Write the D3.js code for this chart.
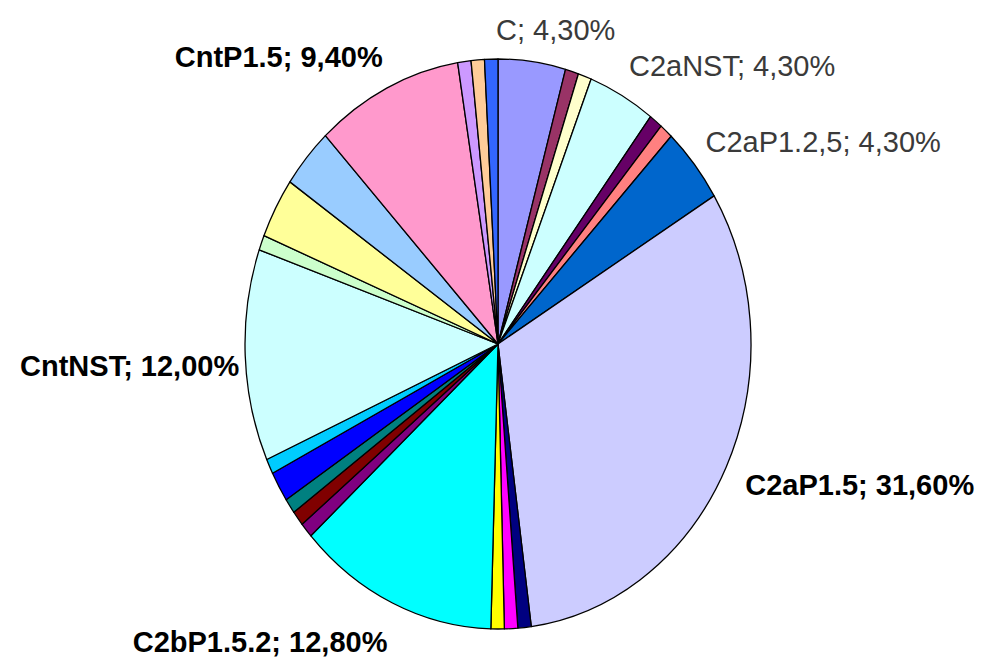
<!DOCTYPE html>
<html>
<head>
<meta charset="utf-8">
<script src="https://cdn.jsdelivr.net/npm/d3@7"></script>
<style>
  html, body { margin: 0; padding: 0; background: #fff; }
  svg { display: block; }
</style>
</head>
<body>
<div id="chart"></div>
<script>
// slice names (null = slice without a data label), clockwise from 12 o'clock
var categories = ["C", null, null, "C2aNST", null, null, "C2aP1.2,5", "C2aP1.5",
  null, null, null, "C2bP1.5.2", null, null, null, null, null, "CntNST",
  null, null, null, "CntP1.5", null, null, null];

// share of each slice, percent
var values = [4.3, 0.85, 0.85, 4.3, 0.85, 0.85, 4.3, 31.6,
  0.85, 0.85, 0.85, 12.8, 0.85, 0.85, 0.85, 1.71, 0.85, 12.0,
  0.85, 3.42, 3.42, 9.4, 0.85, 0.85, 0.85];

// old excel default series colours
var colors = ["#9999FF", "#993366", "#FFFFCC", "#CCFFFF", "#660066", "#FF8080", "#0066CC", "#CCCCFF",
  "#000080", "#FF00FF", "#FFFF00", "#00FFFF", "#800080", "#800000", "#008080", "#0000FF", "#00CCFF", "#CCFFFF",
  "#CCFFCC", "#FFFF99", "#99CCFF", "#FF99CC", "#CC99FF", "#FFCC99", "#3366FF"];

var width = 983, height = 660;
var cx = 498, cy = 344, rx = 253, ry = 285;

// where each label sits relative to the rim point of its slice
var labelLayout = {
  "C":          { dx: -36, dy: -22, anchor: "start", bold: false },
  "C2aNST":     { dx: 7,   dy: -20, anchor: "start", bold: false },
  "C2aP1.2,5":  { dx: 11,  dy: -12, anchor: "start", bold: false },
  "C2aP1.5":    { dx: 19,  dy: 28,  anchor: "start", bold: true },
  "C2bP1.5.2":  { dx: -5,  dy: 49,  anchor: "end",   bold: true },
  "CntNST":     { dx: -6,  dy: 21,  anchor: "end",   bold: true },
  "CntP1.5":    { dx: -4,  dy: -21, anchor: "end",   bold: true }
};

var data = values.map(function(v, i) {
  return { name: categories[i], value: v, color: colors[i] };
});

var comma = d3.formatLocale({ decimal: ",", thousands: ".", grouping: [3], currency: ["", ""] }).format(".2f");

var svg = d3.select("#chart").append("svg")
  .attr("width", width)
  .attr("height", height);

var pie = d3.pie().sort(null).value(function(d) { return d.value; });
var arcs = pie(data);

var arc = d3.arc().innerRadius(0).outerRadius(rx);

// the pie is an ellipse: squash a circle vertically
var g = svg.append("g")
  .attr("transform", "translate(" + cx + "," + cy + ") scale(1," + (ry / rx) + ")");

g.selectAll("path")
  .data(arcs)
  .enter()
  .append("path")
  .attr("d", arc)
  .attr("fill", function(d) { return d.data.color; })
  .attr("stroke", "#000")
  .attr("stroke-width", 1.3)
  .attr("stroke-linejoin", "round")
  .attr("vector-effect", "non-scaling-stroke");

svg.selectAll("text.lbl")
  .data(arcs.filter(function(d) { return d.data.name; }))
  .enter()
  .append("text")
  .attr("class", "lbl")
  .attr("x", function(d) {
    var a = (d.startAngle + d.endAngle) / 2;
    return cx + rx * Math.sin(a) + labelLayout[d.data.name].dx;
  })
  .attr("y", function(d) {
    var a = (d.startAngle + d.endAngle) / 2;
    return cy - ry * Math.cos(a) + labelLayout[d.data.name].dy;
  })
  .attr("text-anchor", function(d) { return labelLayout[d.data.name].anchor; })
  .style("font-family", "'Liberation Sans', Arial, sans-serif")
  .style("font-size", "29px")
  .style("font-weight", function(d) { return labelLayout[d.data.name].bold ? "bold" : "normal"; })
  .style("fill", function(d) { return labelLayout[d.data.name].bold ? "#000" : "#3a3a3a"; })
  .text(function(d) { return d.data.name + "; " + comma(d.data.value) + "%"; });
</script>
</body>
</html>
